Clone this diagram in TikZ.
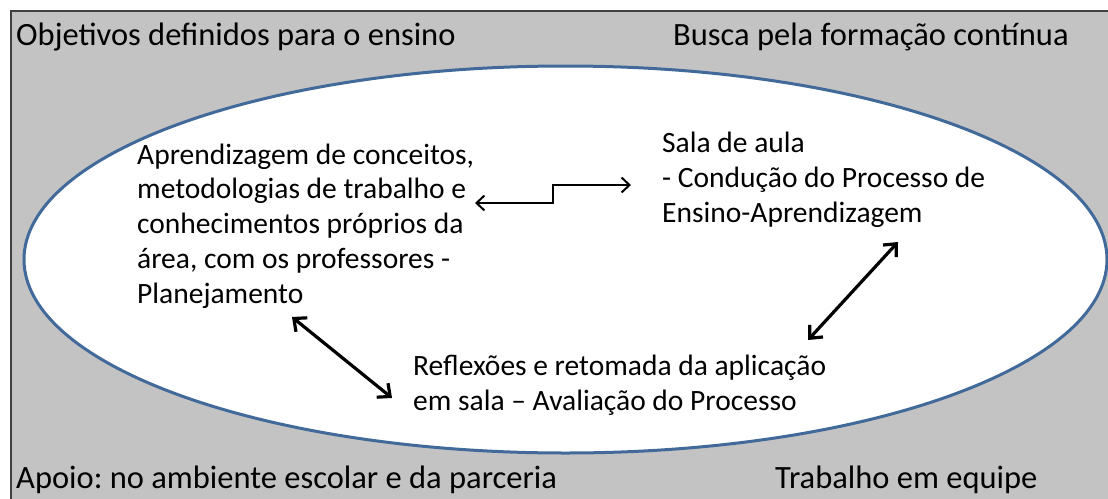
\documentclass[tikz,border=0pt]{standalone}
\usepackage{fontspec}
\setmainfont{Carlito}
\usetikzlibrary{arrows.meta}
\frenchspacing
\definecolor{bggray}{RGB}{195,195,195}
\definecolor{ellblue}{RGB}{65,106,155}
\tikzset{
  corner/.style={anchor=base west, inner sep=0pt, font=\fontsize{32.5}{38}\selectfont},
  inner/.style={anchor=base west, inner sep=0pt, align=left, font=\fontsize{29.5}{34.75}\selectfont},
  biarrow/.style={line width=3.2pt, {Straight Barb[length=10pt,width=18pt]}-{Straight Barb[length=10pt,width=18pt]}},
  steparrow/.style={line width=2pt, {Straight Barb[length=8pt,width=15pt]}-{Straight Barb[length=8pt,width=15pt]}}
}
\begin{document}
\begin{tikzpicture}[x=1pt,y=-1pt]
\useasboundingbox (0,0) rectangle (1108,498);
\fill[white] (0,0) rectangle (1108,498);
\filldraw[fill=bggray, draw=black!75, line width=1.2pt] (11,11) rectangle (1120,510);
\filldraw[fill=white, draw=ellblue, line width=3pt] (565.5,259.5) ellipse [x radius=541.5, y radius=193.5];
\node[corner] (obj) at (16,45) {Objetivos definidos para o ensino};
\node[corner] (busca) at (673,45) {Busca pela formação contínua};
\node[corner] (apoio) at (16,488) {Apoio: no ambiente escolar e da parceria};
\node[corner] (trab) at (775,488) {Trabalho em equipe};
\node[inner] (plan) at (137,303) {Aprendizagem de conceitos,\\metodologias de trabalho e\\conhecimentos próprios da\\área, com os professores -\\Planejamento};
\node[inner] (sala) at (662,222) {Sala de aula\\- Condução do Processo de\\Ensino-Aprendizagem};
\node[inner] (refl) at (413,410) {Reflexões e retomada da aplicação\\em sala – Avaliação do Processo};
\coordinate (p1) at (475,203);
\coordinate (p2) at (631,185);
\coordinate (q1) at (292,317);
\coordinate (q2) at (392,398);
\coordinate (r1) at (898,242);
\coordinate (r2) at (808,340);
\draw[steparrow] (p1) -- (553,203) -- (553,185) -- (p2);
\draw[biarrow] (q1) -- (q2);
\draw[biarrow] (r1) -- (r2);
\end{tikzpicture}
\end{document}
